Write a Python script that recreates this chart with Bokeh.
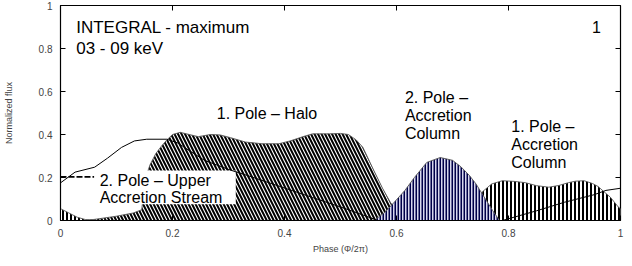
from bokeh.plotting import figure
from bokeh.models import Range1d, FixedTicker
from bokeh.embed import file_html
from bokeh.resources import INLINE
from bokeh.core.properties import value

# ---- data ----
# 1. Pole - Halo (diagonal hatch)
halo_x = [0.03, 0.06, 0.10, 0.13, 0.145, 0.152, 0.16, 0.17, 0.18, 0.19, 0.20, 0.214, 0.23, 0.246,
          0.268, 0.285, 0.304, 0.33, 0.36, 0.39, 0.41, 0.433, 0.45, 0.48, 0.50, 0.514, 0.528,
          0.54, 0.56, 0.575, 0.59, 0.61, 0.63]
halo_y = [0.0, 0.005, 0.02, 0.035, 0.05, 0.2, 0.26, 0.31, 0.345, 0.375, 0.40, 0.41, 0.40, 0.39,
          0.40, 0.398, 0.385, 0.365, 0.357, 0.357, 0.37, 0.39, 0.403, 0.403, 0.405, 0.40, 0.375,
          0.34, 0.23, 0.15, 0.08, 0.03, 0.0]

# 2. Pole - Accretion Column (dense blue vertical hatch)
col2_x = [0.56, 0.58, 0.596, 0.615, 0.632, 0.654, 0.678, 0.70, 0.715, 0.73, 0.742, 0.754, 0.772, 0.784]
col2_y = [0.0, 0.04, 0.085, 0.14, 0.2, 0.27, 0.293, 0.28, 0.25, 0.21, 0.17, 0.12, 0.045, 0.0]

# 1. Pole - Accretion Column (black vertical hatch), wraps around phase 1 -> 0
col1_x = [0.72, 0.735, 0.754, 0.77, 0.789, 0.81, 0.83, 0.85, 0.872, 0.89, 0.907, 0.92, 0.935,
          0.95, 0.96, 0.97, 0.982, 0.996, 1.0]
col1_y = [0.0, 0.06, 0.135, 0.17, 0.185, 0.182, 0.176, 0.162, 0.155, 0.163, 0.176, 0.183, 0.185,
          0.172, 0.158, 0.135, 0.108, 0.063, 0.055]
col1w_x = [0.0, 0.015, 0.03, 0.045, 0.055]
col1w_y = [0.055, 0.035, 0.015, 0.004, 0.0]

# 2. Pole - Upper Accretion Stream (thin line)
stream_x = [0.0, 0.026, 0.061, 0.084, 0.109, 0.132, 0.154, 0.19, 0.21, 0.23, 0.257, 0.304, 0.333,
            0.39, 0.45, 0.51, 0.567, 0.789, 0.85, 0.9, 0.953, 0.974, 1.0]
stream_y = [0.175, 0.225, 0.248, 0.29, 0.34, 0.37, 0.378, 0.378, 0.36, 0.325, 0.28, 0.234, 0.21,
            0.16, 0.107, 0.054, 0.0, 0.0, 0.045, 0.085, 0.12, 0.14, 0.15]

ticks = [0, 0.2, 0.4, 0.6, 0.8, 1]
tick_labels = {0: "0", 0.2: "0.2", 0.4: "0.4", 0.6: "0.6", 0.8: "0.8", 1: "1"}

FONT = "Liberation Sans"

p = figure(width=624, height=258, output_backend="svg", toolbar_location=None,
           x_range=Range1d(0, 1), y_range=Range1d(0, 1),
           min_border_left=51, min_border_right=4, min_border_top=5, min_border_bottom=38,
           x_axis_label="Phase (\u03a6/2\u03c0)", y_axis_label="Normalized flux")
p.grid.visible = False
p.outline_line_color = "black"
p.outline_line_width = 1.2
p.background_fill_color = "white"

for ax in (p.xaxis[0], p.yaxis[0]):
    ax.ticker = FixedTicker(ticks=ticks)
    ax.major_label_overrides = tick_labels
    ax.major_tick_in = 5
    ax.major_tick_out = 0
    ax.minor_tick_in = 0
    ax.minor_tick_out = 0
    ax.major_label_text_font = FONT
    ax.major_label_text_font_size = "10px"
    ax.axis_label_text_font = FONT
    ax.axis_label_text_font_size = "9px"
    ax.axis_label_text_font_style = "normal"
    ax.axis_line_color = "black"
p.yaxis[0].major_label_standoff = 8
p.yaxis[0].axis_label_standoff = 22
p.xaxis[0].major_label_standoff = 8
p.xaxis[0].axis_label_standoff = 4

# mirrored inward ticks on top and right edges (markers clipped by the frame)
p.scatter(x=ticks, y=[1] * len(ticks), marker="dash", size=10, angle=1.5708,
          line_color="black", line_width=1)
p.scatter(x=[1] * len(ticks), y=ticks, marker="dash", size=10, angle=0,
          line_color="black", line_width=1)

# halo
p.varea(x=halo_x, y1=0, y2=halo_y, fill_color="white", hatch_pattern="left_diagonal_line",
        hatch_color="black", hatch_scale=7, hatch_weight=2.0)
p.line(halo_x, halo_y, line_color="#555555", line_width=0.9)

# pole 1 accretion column
p.varea(x=col1_x, y1=0, y2=col1_y, fill_color="white", hatch_pattern="vertical_line",
        hatch_color="black", hatch_scale=4, hatch_weight=2.0)
p.line(col1_x, col1_y, line_color="#555555", line_width=0.9)
p.varea(x=col1w_x, y1=0, y2=col1w_y, fill_color="white", hatch_pattern="vertical_line",
        hatch_color="black", hatch_scale=4, hatch_weight=2.0)
p.line(col1w_x, col1w_y, line_color="#555555", line_width=0.9)

# pole 2 accretion column
p.varea(x=col2_x, y1=0, y2=col2_y, fill_color="#d8d8ee", hatch_pattern="vertical_line",
        hatch_color="#000048", hatch_scale=3, hatch_weight=2.0)
p.line(col2_x, col2_y, line_color="#555555", line_width=0.9)

# white label box
p.quad(left=[0.06], right=[0.313], bottom=[0.076], top=[0.233], fill_color="white",
       line_color=None)

# thin line: upper accretion stream
p.line(stream_x, stream_y, line_color="black", line_width=1.0)

# leader line
p.line([0.0, 0.06], [0.203, 0.203], line_color="black", line_width=1.6, line_dash="6 2")

# texts
p.text(x=[0.028, 0.028], y=[0.897, 0.798], text=["INTEGRAL - maximum", "03 - 09 keV"],
       text_font=value(FONT), text_font_size=value("17px"), text_baseline="middle",
       text_align="left", text_color="black")
p.text(x=[0.965], y=[0.901], text=["1"], text_font=value(FONT), text_font_size=value("16px"),
       text_baseline="middle", text_align="right", text_color="black")
lab_x = [0.279, 0.615, 0.615, 0.615, 0.805, 0.805, 0.805, 0.070, 0.070]
lab_y = [0.498, 0.574, 0.489, 0.404, 0.439, 0.354, 0.269, 0.188, 0.108]
lab_t = ["1. Pole \u2013 Halo", "2. Pole \u2013", "Accretion", "Column",
         "1. Pole \u2013", "Accretion", "Column", "2. Pole \u2013 Upper", "Accretion Stream"]
p.text(x=lab_x, y=lab_y, text=lab_t, text_font=value(FONT), text_font_size=value("16px"),
       text_baseline="middle", text_align="left", text_color="black")

open("out.html", "w").write(file_html(p, INLINE))
